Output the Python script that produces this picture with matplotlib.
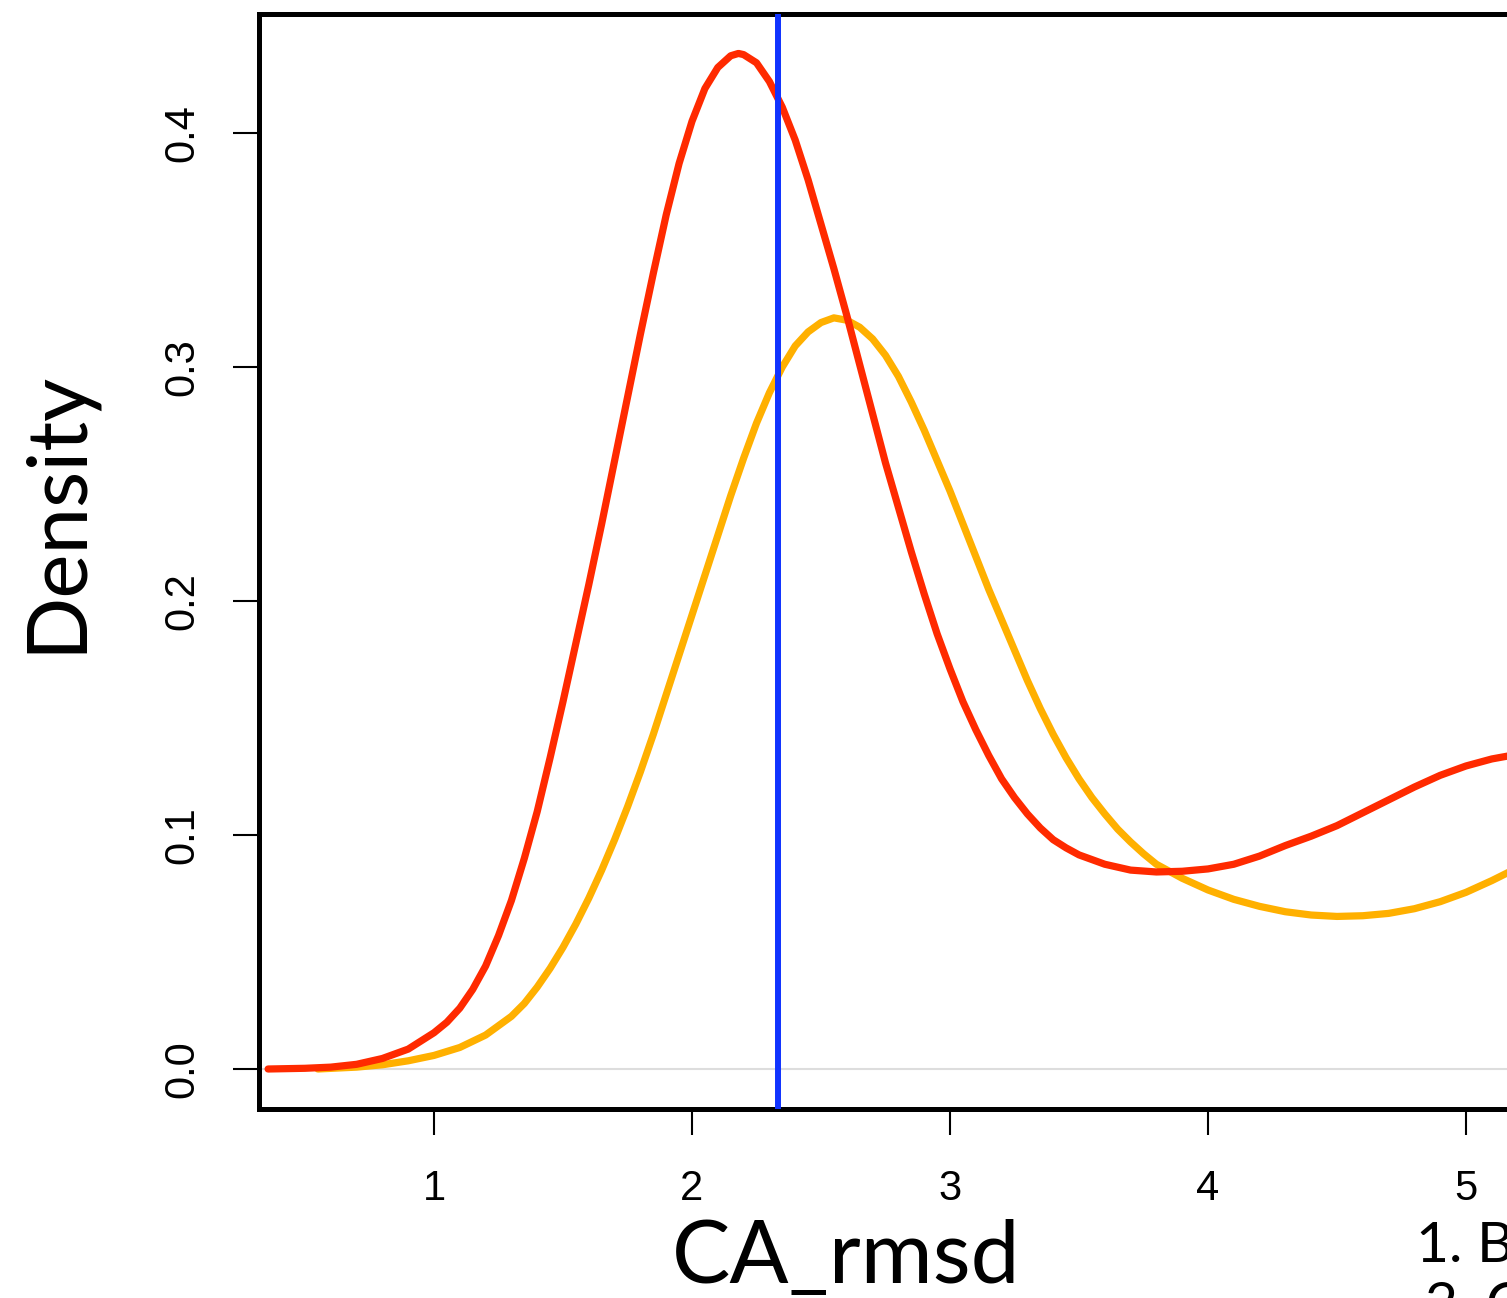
import matplotlib
matplotlib.use("Agg")
import matplotlib.pyplot as plt
import numpy as np

# density curves
red_x = [0.357, 0.5, 0.6, 0.7, 0.8, 0.9, 0.95, 1.0, 1.05, 1.1, 1.15, 1.2, 1.25, 1.3, 1.35,
         1.4, 1.45, 1.5, 1.55, 1.6, 1.65, 1.7, 1.75, 1.8, 1.85, 1.9, 1.95, 2.0, 2.05, 2.1,
         2.15, 2.18, 2.2, 2.25, 2.3, 2.35, 2.4, 2.45, 2.5, 2.55, 2.6, 2.65, 2.7, 2.75, 2.8,
         2.85, 2.9, 2.95, 3.0, 3.05, 3.1, 3.15, 3.2, 3.25, 3.3, 3.35, 3.4, 3.45, 3.5, 3.6,
         3.7, 3.8, 3.9, 4.0, 4.1, 4.2, 4.3, 4.4, 4.5, 4.6, 4.7, 4.8, 4.9, 5.0, 5.1, 5.2]
red_y = [0.0, 0.0003, 0.0008, 0.002, 0.0045, 0.0085, 0.012, 0.0155, 0.020, 0.026, 0.034,
         0.044, 0.057, 0.072, 0.090, 0.110, 0.133, 0.157, 0.182, 0.207, 0.233, 0.260, 0.287,
         0.314, 0.340, 0.365, 0.387, 0.405, 0.419, 0.428, 0.433, 0.434, 0.4335, 0.430, 0.422,
         0.411, 0.397, 0.380, 0.361, 0.342, 0.322, 0.301, 0.280, 0.259, 0.240, 0.221, 0.203,
         0.186, 0.171, 0.157, 0.145, 0.134, 0.124, 0.116, 0.109, 0.103, 0.098, 0.0945, 0.0915,
         0.0875, 0.085, 0.0842, 0.0845, 0.0855, 0.0875, 0.091, 0.0955, 0.0995, 0.104, 0.1095,
         0.115, 0.1205, 0.1255, 0.1295, 0.1325, 0.1345]

orange_x = [0.55, 0.7, 0.8, 0.9, 1.0, 1.1, 1.2, 1.3, 1.35, 1.4, 1.45, 1.5, 1.55, 1.6, 1.65,
            1.7, 1.75, 1.8, 1.85, 1.9, 1.95, 2.0, 2.05, 2.1, 2.15, 2.2, 2.25, 2.3, 2.35, 2.4,
            2.45, 2.5, 2.55, 2.6, 2.65, 2.7, 2.75, 2.8, 2.85, 2.9, 2.95, 3.0, 3.05, 3.1, 3.15,
            3.2, 3.25, 3.3, 3.35, 3.4, 3.45, 3.5, 3.55, 3.6, 3.65, 3.7, 3.75, 3.8, 3.9, 4.0,
            4.1, 4.2, 4.3, 4.4, 4.5, 4.6, 4.7, 4.8, 4.9, 5.0, 5.1, 5.2]
orange_y = [0.0, 0.0008, 0.0018, 0.0035, 0.0058, 0.0092, 0.0145, 0.0225, 0.028, 0.035, 0.043,
            0.052, 0.062, 0.073, 0.085, 0.098, 0.112, 0.127, 0.143, 0.160, 0.177, 0.194, 0.211,
            0.228, 0.245, 0.261, 0.276, 0.289, 0.300, 0.309, 0.315, 0.319, 0.321, 0.320, 0.317,
            0.312, 0.305, 0.296, 0.285, 0.273, 0.260, 0.247, 0.233, 0.219, 0.205, 0.192, 0.179,
            0.166, 0.154, 0.143, 0.133, 0.124, 0.116, 0.109, 0.1025, 0.097, 0.092, 0.0875,
            0.0815, 0.0765, 0.0725, 0.0695, 0.0672, 0.0658, 0.0652, 0.0655, 0.0665, 0.0685,
            0.0715, 0.0755, 0.0805, 0.086]

ref_value = 2.333
x_ticks = [1, 2, 3, 4, 5]
y_ticks = [0.0, 0.1, 0.2, 0.3, 0.4]
y_ticklabels = ["0.0", "0.1", "0.2", "0.3", "0.4"]
legend_lines = ["1. Bl", "2. C"]

W, H = 1507, 1298
fig = plt.figure(figsize=(W / 100, H / 100), dpi=100)

# plot box: left 259px, top 14px, bottom 1109px, right edge runs past the image
ax = fig.add_axes([259 / W, (H - 1109) / H, (1700 - 259) / W, (1109 - 14) / H])
ax.set_xlim((259 - 176) / 258, (1700 - 176) / 258)
ax.set_ylim((1069 - 1109) / 2340, (1069 - 14) / 2340)

ax.axhline(0, color="#dddddd", lw=1.5, zorder=1)
ax.plot(red_x, red_y, color="#ff2a00", lw=5.2, solid_capstyle="round",
        solid_joinstyle="round", zorder=3)
ax.plot(orange_x, orange_y, color="#ffb000", lw=5.2, solid_capstyle="round",
        solid_joinstyle="round", zorder=2)
ax.axvline(ref_value, color="#1033ff", lw=4.3, zorder=4)

for s in ax.spines.values():
    s.set_linewidth(3.6)
    s.set_color("black")

ax.set_xticks(x_ticks)
ax.set_xticklabels([str(t) for t in x_ticks], fontsize=30, family="Liberation Sans")
ax.set_yticks(y_ticks)
ax.set_yticklabels(y_ticklabels, fontsize=30, family="Liberation Sans",
                   rotation=90, va="center")
ax.tick_params(axis="both", length=19, width=1.5, direction="out")
ax.tick_params(axis="x", pad=24)
ax.tick_params(axis="y", pad=22)

fig.text(57 / W, 1 - 511 / H, "Density", rotation=90, ha="center", va="center",
         fontsize=60, family="Lato")
fig.text(846 / W, 1 - 1283 / H, "CA_rmsd", ha="center", va="baseline",
         fontsize=63, family="Lato")
fig.text(1416 / W, 1 - 1262 / H, legend_lines[0], ha="left", va="baseline",
         fontsize=41, family="Lato")
fig.text(1425 / W, 1 - 1322 / H, legend_lines[1], ha="left", va="baseline",
         fontsize=41, family="Lato")

fig.savefig("out.png", dpi=100)
